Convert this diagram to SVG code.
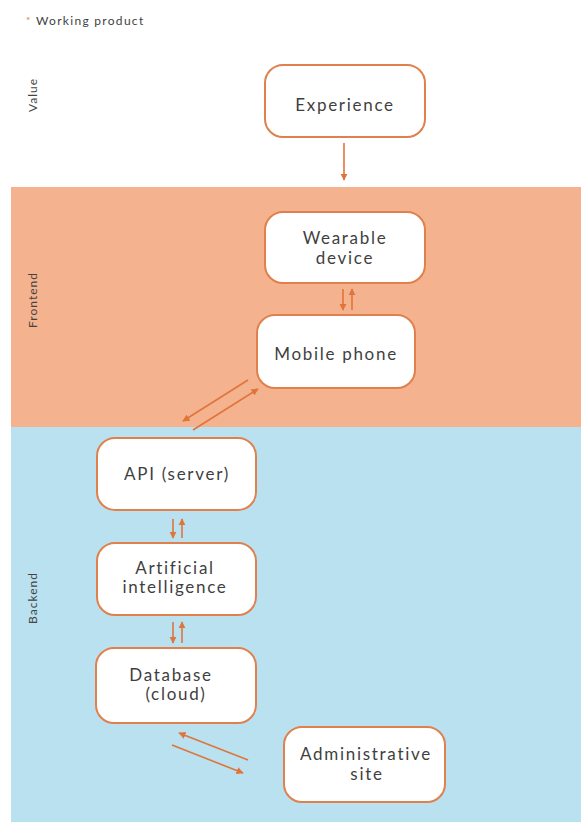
<svg xmlns="http://www.w3.org/2000/svg" width="581" height="823" viewBox="0 0 581 823">
  <defs>
    <marker id="head" viewBox="0 0 10 10" refX="9" refY="5" markerWidth="4.5" markerHeight="4.5" orient="auto" markerUnits="strokeWidth">
      <path d="M0,0 L10,5 L0,10 Z" fill="#E0753B"/>
    </marker>
    <style>
      .node rect { fill: #ffffff; stroke: #E0804C; stroke-width: 2; }
      .node text { font-family: "Lato", "Liberation Sans", sans-serif; font-size: 17px; fill: #3f3f3f; text-anchor: middle; letter-spacing: 1.7px; }
      .lane { font-family: "Lato", "Liberation Sans", sans-serif; font-size: 12px; fill: #444444; text-anchor: middle; letter-spacing: 1px; }
      .link { stroke: #E0753B; stroke-width: 1.6; fill: none; marker-end: url(#head); }
    </style>
  </defs>

  <!-- background and bands -->
  <rect x="0" y="0" width="581" height="823" fill="#ffffff"/>
  <rect x="11" y="187" width="570" height="240" fill="#F4B28E"/>
  <rect x="11" y="427" width="570" height="395" fill="#B9E1EF"/>

  <!-- legend -->
  <text x="26" y="24" font-family="Lato, 'Liberation Sans', sans-serif" font-size="10" fill="#E0753B">*</text>
  <text x="36" y="25" font-family="Lato, 'Liberation Sans', sans-serif" font-size="12" fill="#3f3f3f" letter-spacing="1.3">Working product</text>

  <!-- lane labels -->
  <text class="lane" transform="translate(37,95) rotate(-90)">Value</text>
  <text class="lane" transform="translate(37,300) rotate(-90)">Frontend</text>
  <text class="lane" transform="translate(37,598) rotate(-90)">Backend</text>

  <!-- nodes -->
  <g id="experience" class="node">
    <rect x="265" y="65" width="160" height="72" rx="18"/>
    <text x="345" y="111">Experience</text>
  </g>
  <g id="wearable" class="node">
    <rect x="265" y="212" width="160" height="71" rx="18"/>
    <text x="345" y="244">Wearable</text>
    <text x="345" y="264">device</text>
  </g>
  <g id="mobile" class="node">
    <rect x="257" y="315" width="158" height="73" rx="18"/>
    <text x="336" y="360">Mobile  phone</text>
  </g>
  <g id="api" class="node">
    <rect x="97" y="438" width="159" height="72" rx="18"/>
    <text x="177" y="480">API  (server)</text>
  </g>
  <g id="ai" class="node">
    <rect x="97" y="543" width="159" height="72" rx="18"/>
    <text x="175" y="574">Artificial</text>
    <text x="175" y="593">intelligence</text>
  </g>
  <g id="database" class="node">
    <rect x="96" y="648" width="160" height="75" rx="18"/>
    <text x="171" y="681">Database</text>
    <text x="176" y="700">(cloud)</text>
  </g>
  <g id="admin" class="node">
    <rect x="284" y="727" width="161" height="75" rx="18"/>
    <text x="366" y="760">Administrative</text>
    <text x="367" y="780">site</text>
  </g>

  <!-- connectors -->
  <g id="connectors">
    <line class="link" x1="344" y1="143" x2="344" y2="180"/>
    <line class="link" x1="343" y1="289" x2="343" y2="310"/>
    <line class="link" x1="352" y1="310" x2="352" y2="289"/>
    <line class="link" x1="248" y1="380" x2="183" y2="421"/>
    <line class="link" x1="193" y1="430" x2="258" y2="389"/>
    <line class="link" x1="173" y1="519" x2="173" y2="538"/>
    <line class="link" x1="182" y1="538" x2="182" y2="519"/>
    <line class="link" x1="173" y1="622" x2="173" y2="643"/>
    <line class="link" x1="182" y1="643" x2="182" y2="622"/>
    <line class="link" x1="248" y1="760" x2="179" y2="733"/>
    <line class="link" x1="172" y1="745" x2="243" y2="773"/>
  </g>
</svg>
